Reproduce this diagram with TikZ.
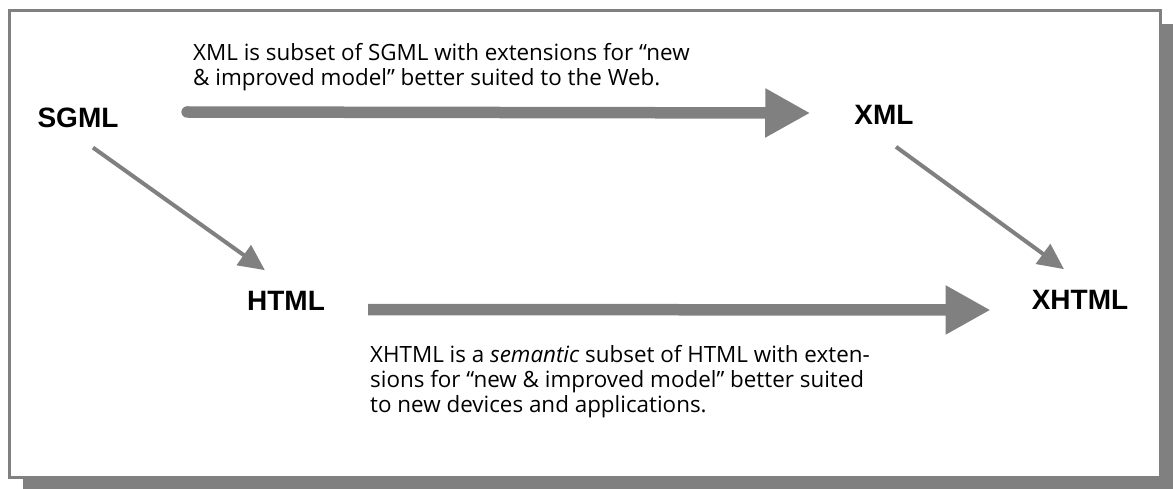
\documentclass[tikz,border=0pt]{standalone}
\usepackage{fontspec}
\setmainfont{Open Sans}
\newfontfamily\labelfont{Liberation Sans}
\usetikzlibrary{arrows.meta}
\definecolor{framegray}{RGB}{128,128,128}
\begin{document}
\begin{tikzpicture}[x=1pt,y=-1pt,
    langname/.style={font=\labelfont\bfseries\fontsize{28}{30}\selectfont, inner sep=0pt},
    note/.style={font=\fontsize{22.4}{25}\selectfont, align=left, inner sep=0pt, anchor=north west},
    fatarrow/.style={draw=framegray, line width=11.5pt, -{Triangle[length=45pt,width=46pt]}},
    thinarrow/.style={draw=framegray, line width=4pt, -{Triangle[length=26pt,width=24pt]}}]
    \useasboundingbox (0,0) rectangle (1173,489);
    % shadow and frame
    \fill[framegray] (23,24) rectangle (1173,489);
    \draw[framegray, fill=white, line width=3pt] (9.5,10.5) rectangle (1160.5,477.5);
    % the four languages
    \node[langname] (sgml) at (78,117.5) {SGML};
    \node[langname] (xml) at (884,115) {XML};
    \node[langname] (html) at (286,301) {HTML};
    \node[langname] (xhtml) at (1080,300) {XHTML};
    % notes
    \node[note] (xmlnote) at (193,43) {XML is subset of SGML with extensions for “new\\
        \& improved model” better suited to the Web.};
    \node[note] (xhtmlnote) at (370,345) {XHTML is a \textit{semantic} subset of HTML with exten-\\
        sions for “new \& improved model” better suited\\
        to new devices and applications.};
    % arrows
    \draw[fatarrow, line cap=round] ([shift={(68.5,-5.5)}]sgml.east) -- ([shift={(-44,-2)}]xml.west);
    \draw[fatarrow] ([shift={(43,8.5)}]html.east) -- ([shift={(-41,10)}]xhtml.west);
    \draw[thinarrow] ([shift={(15,20)}]sgml.south) -- ([shift={(18,-21)}]html.north west);
    \draw[thinarrow] ([shift={(12,22)}]xml.south) -- ([shift={(-16,-21)}]xhtml.north);
\end{tikzpicture}
\end{document}
